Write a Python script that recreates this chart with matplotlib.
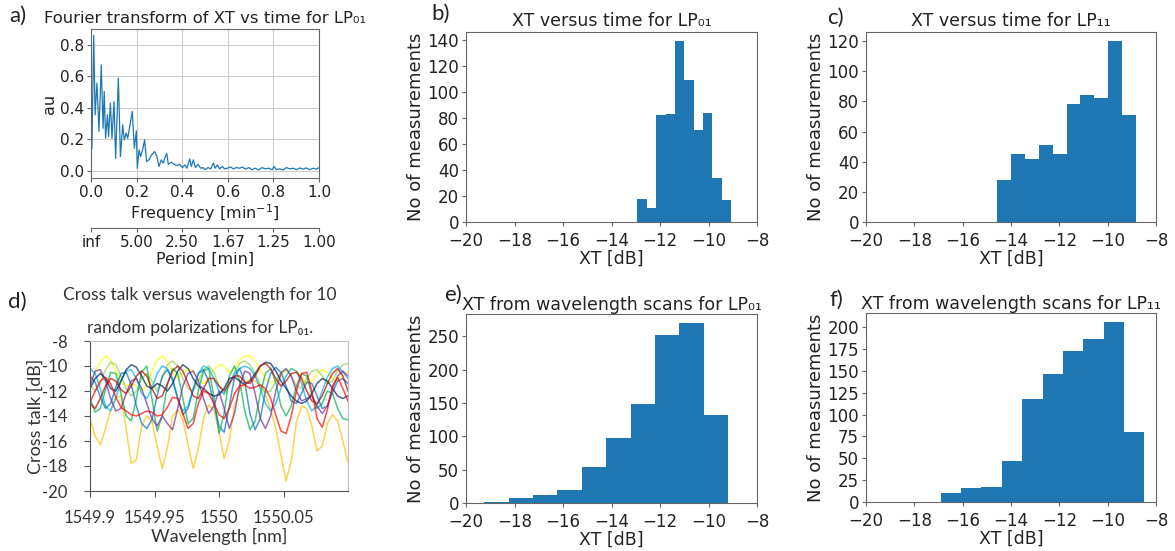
import numpy as np
import matplotlib
matplotlib.use("Agg")
from matplotlib import pyplot as plt

W, H = 1175, 551

# a) Fourier spectrum
freq = [0.004, 0.012, 0.018, 0.026, 0.035, 0.045, 0.053, 0.058, 0.064, 0.072,
        0.077, 0.085, 0.092, 0.101, 0.108, 0.120, 0.129, 0.139, 0.146, 0.154,
        0.161, 0.171, 0.181, 0.190, 0.199, 0.203, 0.211, 0.218, 0.228, 0.235,
        0.244, 0.254, 0.265, 0.279, 0.289, 0.298, 0.308, 0.317, 0.323, 0.332,
        0.339, 0.352, 0.364, 0.376, 0.389, 0.401, 0.411, 0.421, 0.433, 0.440,
        0.449, 0.458, 0.469, 0.481, 0.491, 0.501, 0.513, 0.525, 0.537, 0.544,
        0.554, 0.564, 0.576, 0.586, 0.598, 0.613, 0.624, 0.637, 0.652, 0.664,
        0.677, 0.692, 0.706, 0.721, 0.735, 0.750, 0.765, 0.779, 0.794, 0.803,
        0.813, 0.827, 0.842, 0.857, 0.871, 0.886, 0.901, 0.915, 0.930, 0.944,
        0.959, 0.974, 0.988, 1.000]
au = [0.144, 0.860, 0.356, 0.557, 0.250, 0.673, 0.270, 0.504, 0.207, 0.356,
      0.218, 0.430, 0.207, 0.440, 0.080, 0.588, 0.091, 0.292, 0.197, 0.240,
      0.207, 0.292, 0.377, 0.144, 0.254, 0.017, 0.133, 0.091, 0.144, 0.197,
      0.059, 0.070, 0.100, 0.123, 0.091, 0.028, 0.070, 0.049, 0.080, 0.112,
      0.042, 0.055, 0.042, 0.034, 0.042, 0.021, 0.038, 0.017, 0.076, 0.028,
      0.070, 0.021, 0.042, 0.017, 0.021, 0.008, 0.021, 0.013, 0.049, 0.017,
      0.038, 0.013, 0.028, 0.013, 0.017, 0.025, 0.013, 0.021, 0.017, 0.025,
      0.011, 0.021, 0.008, 0.017, 0.006, 0.021, 0.013, 0.017, 0.008, 0.028,
      0.008, 0.013, 0.006, 0.021, 0.013, 0.017, 0.008, 0.019, 0.011, 0.019,
      0.008, 0.017, 0.011, 0.021]
period_ticks = [0.0, 0.2, 0.4, 0.6, 0.8, 1.0]
period_labels = ["inf", "5.00", "2.50", "1.67", "1.25", "1.00"]

# histograms: range of the bins and counts per bin
b_range = (-12.93, -9.07)
b_counts = [18, 11, 82, 83, 139, 109, 71, 84, 34, 17]
c_range = (-14.57, -8.83)
c_counts = [28, 45, 42, 51, 45, 78, 84, 82, 120, 71]
e_range = (-19.24, -9.20)
e_counts = [2, 8, 12, 19, 54, 98, 149, 252, 270, 132]
f_range = (-16.91, -8.48)
f_counts = [10, 16, 17, 47, 118, 146, 173, 186, 206, 80]

# d) cross talk vs wavelength, 10 polarizations, sampled every 0.004 nm
wl = np.linspace(1549.9, 1550.1, 51)
xt_orange = [-14.2, -15.6, -16.3, -15.0, -13.5, -12.5, -12.4, -15.0, -17.8, -17.5,
             -14.8, -14.0, -14.4, -16.4, -18.2, -16.5, -14.0, -13.5, -14.3, -16.3,
             -18.2, -16.6, -14.2, -13.1, -13.5, -15.3, -17.4, -16.0, -13.2, -11.9,
             -11.3, -11.1, -11.2, -11.6, -12.3, -13.5, -15.0, -17.1, -19.2, -17.6,
             -14.5, -13.2, -13.4, -14.8, -16.8, -16.4, -14.6, -13.9, -14.4, -16.0, -17.7]
xt_red = [-12.9, -12.0, -11.2, -10.9, -11.4, -12.5, -13.3, -13.6, -13.9, -14.0,
          -13.8, -13.6, -13.7, -14.0, -13.9, -13.3, -12.5, -12.6, -13.8, -15.0,
          -14.6, -13.0, -12.0, -12.2, -13.0, -13.9, -14.2, -13.4, -12.2, -11.6,
          -11.5, -11.8, -11.7, -11.5, -11.8, -12.6, -13.9, -15.2, -15.4, -14.0,
          -12.0, -10.6, -10.5, -12.0, -14.2, -14.9, -13.5, -11.6, -10.9, -11.8, -12.8]
xt_green = [-12.6, -13.7, -13.4, -11.9, -10.5, -10.6, -12.2, -14.0, -14.4, -12.6,
            -10.5, -10.0, -12.6, -15.2, -14.0, -11.5, -10.2, -10.6, -12.6, -14.6,
            -14.2, -12.0, -10.4, -10.2, -12.4, -15.4, -13.8, -10.8, -10.0, -11.2,
            -13.6, -15.1, -14.4, -12.2, -10.6, -10.2, -11.3, -13.2, -14.0, -13.2,
            -11.6, -10.6, -10.8, -12.3, -13.4, -13.0, -12.0, -12.2, -13.4, -14.2, -14.3]
xt_lgreen = [-11.5, -12.0, -11.4, -10.3, -9.7, -9.9, -10.8, -11.8, -12.4, -12.0,
             -11.0, -10.6, -11.2, -12.0, -11.0, -9.9, -9.6, -10.0, -11.0, -11.8,
             -12.0, -11.2, -10.3, -10.0, -10.5, -11.6, -12.3, -11.6, -10.5, -9.8,
             -9.6, -9.9, -10.6, -11.5, -12.1, -12.0, -11.2, -10.5, -10.3, -10.8,
             -11.6, -11.8, -11.0, -10.4, -10.3, -10.8, -11.4, -11.2, -10.4, -9.9, -9.8]
xt_yellow = [-11.3, -10.5, -9.7, -9.2, -9.5, -10.4, -11.3, -11.6, -11.4, -11.6,
             -12.0, -11.5, -10.4, -9.5, -9.2, -9.6, -10.5, -11.0, -10.6, -10.2,
             -10.4, -11.0, -11.4, -11.0, -10.3, -9.9, -10.0, -10.5, -10.2, -9.5,
             -9.2, -9.2, -9.6, -10.3, -11.0, -11.3, -11.2, -10.8, -10.4, -10.2,
             -10.4, -10.9, -11.4, -11.2, -10.6, -10.3, -10.5, -11.0, -11.2, -10.8, -10.5]
xt_blue = [-10.8, -11.3, -12.5, -13.4, -13.0, -11.7, -10.6, -10.5, -11.5, -13.2,
           -14.6, -15.0, -14.3, -12.4, -10.8, -10.3, -11.0, -12.6, -13.9, -13.4,
           -11.9, -10.6, -10.3, -11.2, -13.0, -14.8, -15.3, -13.2, -10.9, -10.2,
           -11.3, -13.8, -15.1, -14.2, -12.0, -10.6, -10.1, -10.5, -11.6, -12.8,
           -13.0, -12.2, -11.3, -11.4, -12.4, -13.4, -13.2, -12.1, -11.2, -11.0, -11.4]
xt_lblue = [-10.2, -10.6, -11.8, -13.2, -13.6, -12.6, -11.2, -10.4, -10.3, -11.0,
            -12.2, -12.6, -11.8, -10.6, -10.0, -10.2, -11.2, -12.6, -13.6, -13.2,
            -11.8, -10.6, -10.0, -10.2, -11.0, -12.0, -12.2, -11.4, -10.6, -10.2,
            -10.0, -10.2, -10.8, -11.8, -13.0, -13.6, -13.0, -11.8, -10.8, -10.2,
            -10.4, -11.4, -12.8, -13.6, -13.2, -12.0, -10.9, -10.2, -10.0, -10.5, -11.0]
xt_purple = [-11.6, -10.4, -10.3, -11.2, -12.6, -13.6, -13.4, -12.2, -11.2, -11.0,
             -11.8, -13.0, -14.2, -14.8, -14.0, -14.6, -15.1, -13.4, -11.6, -10.6,
             -10.4, -11.2, -12.6, -13.8, -13.2, -12.0, -13.4, -15.0, -13.8, -11.6,
             -10.4, -10.6, -12.2, -14.2, -15.0, -14.0, -12.0, -10.6, -10.2, -10.8,
             -12.0, -12.8, -12.6, -12.4, -13.2, -13.8, -13.2, -11.8, -10.8, -10.4, -10.8]
xt_dblue = [-11.8, -11.0, -10.6, -11.0, -11.8, -12.0, -11.2, -10.3, -9.9, -10.1,
            -10.8, -11.6, -11.8, -11.4, -11.6, -12.0, -11.4, -10.4, -9.9, -10.2,
            -11.0, -11.6, -11.8, -12.2, -12.4, -12.3, -11.8, -11.0, -10.9, -11.2,
            -11.5, -11.2, -10.6, -10.0, -9.7, -9.8, -10.4, -11.2, -11.8, -12.4,
            -12.8, -13.0, -12.8, -12.2, -11.4, -11.0, -11.2, -11.8, -12.4, -12.6, -12.4]
xt_dred = [-13.0, -13.4, -12.6, -11.6, -11.0, -11.2, -11.9, -12.2, -11.6, -10.8,
           -10.4, -10.8, -11.8, -12.6, -12.4, -11.4, -10.4, -10.0, -10.4, -11.4,
           -12.4, -12.6, -11.8, -11.0, -11.0, -11.6, -12.0, -11.4, -10.8, -10.8,
           -11.3, -11.4, -10.8, -10.0, -9.8, -10.2, -11.0, -11.6, -11.2, -10.6,
           -10.5, -11.0, -12.0, -12.8, -13.0, -12.4, -11.4, -10.6, -10.2, -10.8, -12.0]

d_series = [
    (xt_orange, "#FFC000"), (xt_yellow, "#FFFF00"), (xt_lgreen, "#92D050"),
    (xt_green, "#00B050"), (xt_lblue, "#00B0F0"), (xt_blue, "#0070C0"),
    (xt_purple, "#7030A0"), (xt_dblue, "#002060"), (xt_dred, "#C00000"),
    (xt_red, "#FF0000"),
]

BLUE = "#1f77b4"
CAL = ["Lato", "DejaVu Sans"]


def box(l, r, t, b):
    return [l / W, 1 - b / H, (r - l) / W, (b - t) / H]


def style_mpl(ax, size=12):
    for s in ax.spines.values():
        s.set_color("#666666")
    ax.tick_params(labelsize=size, colors="#222222", length=3, pad=2)
    ax.tick_params(color="#666666")


def hist_panel(rect, rng, counts, title, yticks, pad=4):
    ax = fig.add_axes(rect)
    edges = np.linspace(rng[0], rng[1], len(counts) + 1)
    ax.hist(edges[:-1], bins=edges, weights=counts, color=BLUE)
    ax.set_xlim(-20, -8)
    ax.set_xticks(range(-20, -7, 2))
    ax.set_yticks(yticks)
    style_mpl(ax)
    ax.tick_params(axis="x", pad=4)
    ax.set_xlabel("XT [dB]", fontsize=12.5, color="#222222", labelpad=0)
    ax.set_ylabel("No of measurements", fontsize=13, color="#222222", labelpad=2)
    ax.set_title(title, fontsize=12.5, pad=pad, color="#222222")
    return ax


fig = plt.figure(figsize=(W / 100, H / 100), dpi=100)

# a)
ax = fig.add_axes(box(91, 319, 29, 178))
ax.plot(freq, au, color=BLUE, lw=0.9)
ax.set_xlim(0, 1)
ax.set_ylim(-0.045, 0.9)
ax.set_xticks([0, 0.2, 0.4, 0.6, 0.8, 1.0])
ax.set_yticks([0, 0.2, 0.4, 0.6, 0.8])
ax.grid(True, color="#cccccc", lw=0.8)
style_mpl(ax, 11)
ax.set_xlabel("Frequency [min$^{-1}$]", fontsize=11.5, color="#222222", labelpad=2)
ax.set_ylabel("au", fontsize=11.5, color="#222222", labelpad=2)
ax.set_title("Fourier transform of XT vs time for LP₀₁", fontsize=11.8, pad=4, color="#222222")
ax2 = ax.twiny()
ax2.set_xlim(0, 1)
ax2.xaxis.set_ticks_position("bottom")
ax2.xaxis.set_label_position("bottom")
ax2.spines["bottom"].set_position(("outward", 36))
for s in ["top", "left", "right"]:
    ax2.spines[s].set_visible(False)
ax2.set_xticks(period_ticks)
ax2.set_xticklabels(period_labels)
style_mpl(ax2, 11)
ax2.set_xlabel("Period [min]", fontsize=11.5, color="#222222", labelpad=1)

# b), c), e), f)
hist_panel(box(466, 757, 32, 222), b_range, b_counts, "XT versus time for LP₀₁", range(0, 141, 20))
hist_panel(box(866, 1156, 32, 222), c_range, c_counts, "XT versus time for LP₁₁", range(0, 121, 20))
hist_panel(box(466, 757, 314, 503), e_range, e_counts, "XT from wavelength scans for LP₀₁",
           range(0, 251, 50), pad=2)
hist_panel(box(866, 1156, 313, 502), f_range, f_counts, "XT from wavelength scans for LP₁₁",
           range(0, 201, 25), pad=2)

# d) excel style line chart
axd = fig.add_axes(box(90, 348, 341, 491))
for vals, col in d_series:
    axd.plot(wl, vals, color=col, lw=1.1, alpha=0.7)
axd.set_xlim(1549.9, 1550.1)
axd.set_ylim(-20, -8)
axd.set_xticks([1549.9, 1549.95, 1550.0, 1550.05])
axd.set_xticklabels(["1549.9", "1549.95", "1550", "1550.05"], family=CAL)
axd.set_yticks(range(-20, -7, 2))
axd.set_yticklabels([str(v) for v in range(-20, -7, 2)], family=CAL)
axd.tick_params(labelsize=12, colors="#333333", length=4, width=0.8, color="#555555")
axd.tick_params(axis="x", pad=10)
axd.tick_params(axis="y", pad=12)
axd.spines["left"].set_color("#555555")
axd.spines["bottom"].set_color("#555555")
axd.spines["top"].set_color("#c0c0c0")
axd.spines["right"].set_color("#c0c0c0")
axd.set_xlabel("Wavelength [nm]", fontsize=13, family=CAL, color="#333333", labelpad=1)
axd.set_ylabel("Cross talk [dB]", fontsize=13, family=CAL, color="#333333", labelpad=-1)
fig.text(200 / W, 1 - 295 / H, "Cross talk versus wavelength for 10",
         ha="center", va="center", fontsize=12.5, family=CAL, color="#333333")
fig.text(200 / W, 1 - 328 / H, "random polarizations for LP₀₁.",
         ha="center", va="center", fontsize=12.5, family=CAL, color="#333333")

# panel letters
for x, y, s in [(9, 6, "a)"), (431, 4, "b)"), (827, 8, "c)"),
                (8, 292, "d)"), (444, 285, "e)"), (829, 290, "f)")]:
    fig.text(x / W, 1 - y / H, s, ha="left", va="top", fontsize=16, family=CAL, color="#222222")

fig.savefig("out.png", dpi=100)
